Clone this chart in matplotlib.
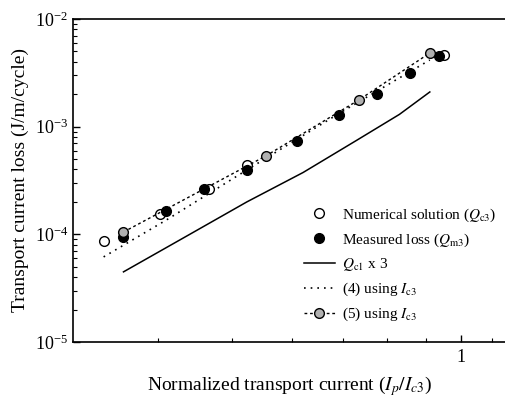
import matplotlib

matplotlib.use("Agg")
import matplotlib.pyplot as plt
from matplotlib.ticker import FixedFormatter, FixedLocator, LogLocator, LogFormatterMathtext, NullFormatter

plt.rcParams["font.family"] = ["Liberation Serif", "DejaVu Serif"]
plt.rcParams["mathtext.fontset"] = "stix"

# ── Data ─────────────────────────────────────────────────────────────────
num_x = [0.339, 0.402, 0.466, 0.523, 0.950]
num_y = [8.7e-5, 1.55e-4, 2.64e-4, 4.4e-4, 4.63e-3]

meas_x = [0.360, 0.410, 0.460, 0.523, 0.608, 0.691, 0.775, 0.857, 0.936]
meas_y = [9.5e-5, 1.65e-4, 2.64e-4, 3.96e-4, 7.4e-4, 1.28e-3, 2.01e-3, 3.15e-3, 4.55e-3]

qc1_x = [0.360, 0.440, 0.523, 0.620, 0.730, 0.830, 0.910]
qc1_y = [4.48e-5, 1.0e-4, 2.0e-4, 3.75e-4, 7.5e-4, 1.30e-3, 2.10e-3]

eq4_x = [0.339, 0.410, 0.528, 0.693, 0.910]
eq4_y = [6.17e-5, 1.36e-4, 4.13e-4, 1.34e-3, 4.16e-3]

eq5_x = [0.360, 0.554, 0.734, 0.910]
eq5_y = [1.05e-4, 5.35e-4, 1.77e-3, 4.83e-3]

fig = plt.figure(figsize=(5.06, 4.03), dpi=100)
ax = fig.add_axes([0.1443, 0.1514, 0.8557, 0.8015])

ax.plot(num_x, num_y, "o", mfc="white", mec="black", ms=7, mew=1.0,
        label=r"Numerical solution ($Q_{\rm c3}$)", zorder=3)
ax.plot(meas_x, meas_y, "o", mfc="black", mec="black", ms=7,
        label=r"Measured loss ($Q_{\rm m3}$)", zorder=4)
ax.plot(qc1_x, qc1_y, "-", color="black", lw=1.1, label=r"$Q_{\rm c1}$ x 3")
ax.plot(eq4_x, eq4_y, color="black", lw=1.2, ls=(0, (1, 3)),
        label=r"(4) using $I_{\rm c3}$")
ax.plot(eq5_x, eq5_y, color="black", lw=1.0, ls=(0, (2, 2)), marker="o",
        mfc="#b0b0b0", mec="black", ms=7, mew=1.0,
        label=r"(5) using $I_{\rm c3}$", zorder=5)

ax.set_xscale("log")
ax.set_yscale("log")
ax.set_xlim(0.309, 1.146)
ax.set_ylim(1e-5, 1e-2)

ax.xaxis.set_major_locator(FixedLocator([1.0]))
ax.xaxis.set_minor_locator(FixedLocator([0.4, 0.5, 0.6, 0.7, 0.8, 0.9, 1.1]))
ax.xaxis.set_major_formatter(FixedFormatter(["1"]))
ax.xaxis.set_minor_formatter(NullFormatter())
ax.yaxis.set_major_locator(LogLocator(base=10))
ax.yaxis.set_minor_locator(LogLocator(base=10, subs=range(2, 10)))
ax.yaxis.set_major_formatter(LogFormatterMathtext())
ax.yaxis.set_minor_formatter(NullFormatter())

ax.tick_params(which="both", direction="in", top=False, right=False, labelsize=13)
ax.tick_params(which="major", length=5, width=1.0)
ax.tick_params(which="minor", length=3, width=0.8)
ax.tick_params(axis="x", pad=5)
ax.spines["right"].set_visible(False)
for s in ["left", "bottom", "top"]:
    ax.spines[s].set_linewidth(1.2)

ax.set_xlabel(r"Normalized transport current ($I_p/I_{c3}$)", fontsize=14, labelpad=6)
ax.set_ylabel("Transport current loss (J/m/cycle)", fontsize=14, labelpad=4)

ax.legend(loc="lower right", bbox_to_anchor=(1.0, 0.03), frameon=False,
          fontsize=11, handlelength=2.0, handletextpad=0.5, labelspacing=0.5,
          borderaxespad=0.2)

fig.savefig("out.png", dpi=100)
